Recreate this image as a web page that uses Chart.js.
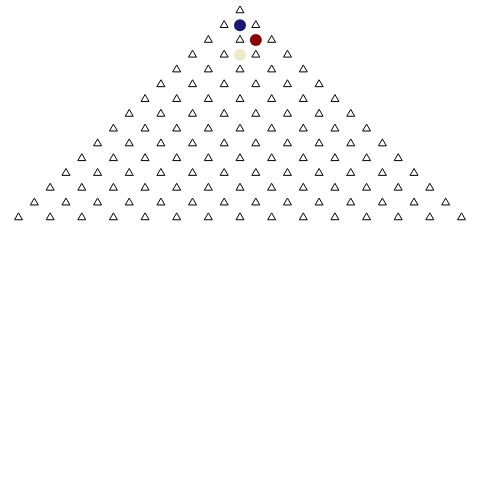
<!DOCTYPE html>
<html>
<head>
<meta charset="utf-8">
<script src="https://cdn.jsdelivr.net/npm/chart.js@4/dist/chart.umd.min.js"></script>
<style>
html,body{margin:0;padding:0;background:#fff;}
#wrap{width:480px;height:480px;}
</style>
</head>
<body>
<div id="wrap"><canvas id="c" width="480" height="480"></canvas></div>
<script>
// Lattice rows (y = -row), x positions of triangle markers in each row
const rowLevels = [0,-1,-2,-3,-4,-5,-6,-7,-8,-9,-10,-11,-12,-13,-14];
const rowXs = [
  [0],
  [-1,1],
  [-2,0,2],
  [-3,-1,1,3],
  [-4,-2,0,2,4],
  [-5,-3,-1,1,3,5],
  [-6,-4,-2,0,2,4,6],
  [-7,-5,-3,-1,1,3,5,7],
  [-8,-6,-4,-2,0,2,4,6,8],
  [-9,-7,-5,-3,-1,1,3,5,7,9],
  [-10,-8,-6,-4,-2,0,2,4,6,8,10],
  [-11,-9,-7,-5,-3,-1,1,3,5,7,9,11],
  [-12,-10,-8,-6,-4,-2,0,2,4,6,8,10,12],
  [-13,-11,-9,-7,-5,-3,-1,1,3,5,7,9,11,13],
  [-14,-12,-10,-8,-6,-4,-2,0,2,4,6,8,10,12,14]
];
// Highlighted circles
const circleX = [0, 1, 0];
const circleY = [-1, -2, -3];
const circleColors = ['#191970', '#8b0000', '#eee8cd'];

const triPts = [];
rowXs.forEach((xs, i) => xs.forEach(x => triPts.push({x: x, y: rowLevels[i]})));
const circPts = circleX.map((x, i) => ({x: x, y: circleY[i]}));

new Chart(document.getElementById('c'), {
  type: 'scatter',
  data: {
    datasets: [
      {
        data: circPts,
        pointStyle: 'circle',
        pointRadius: 6,
        pointHoverRadius: 6,
        backgroundColor: circleColors,
        borderColor: circleColors,
        borderWidth: 0
      },
      {
        data: triPts,
        pointStyle: 'triangle',
        pointRadius: 4.6,
        pointHoverRadius: 4.6,
        backgroundColor: 'rgba(255,255,255,0)',
        borderColor: '#000',
        borderWidth: 1
      }
    ]
  },
  options: {
    responsive: false,
    animation: false,
    events: [],
    layout: {padding: 0},
    plugins: {legend: {display: false}, tooltip: {enabled: false}},
    scales: {
      x: {type: 'linear', display: false, min: -14.79, max: 14.79},
      y: {type: 'linear', display: false, min: -31.35, max: 0.30}
    }
  }
});
</script>
</body>
</html>
